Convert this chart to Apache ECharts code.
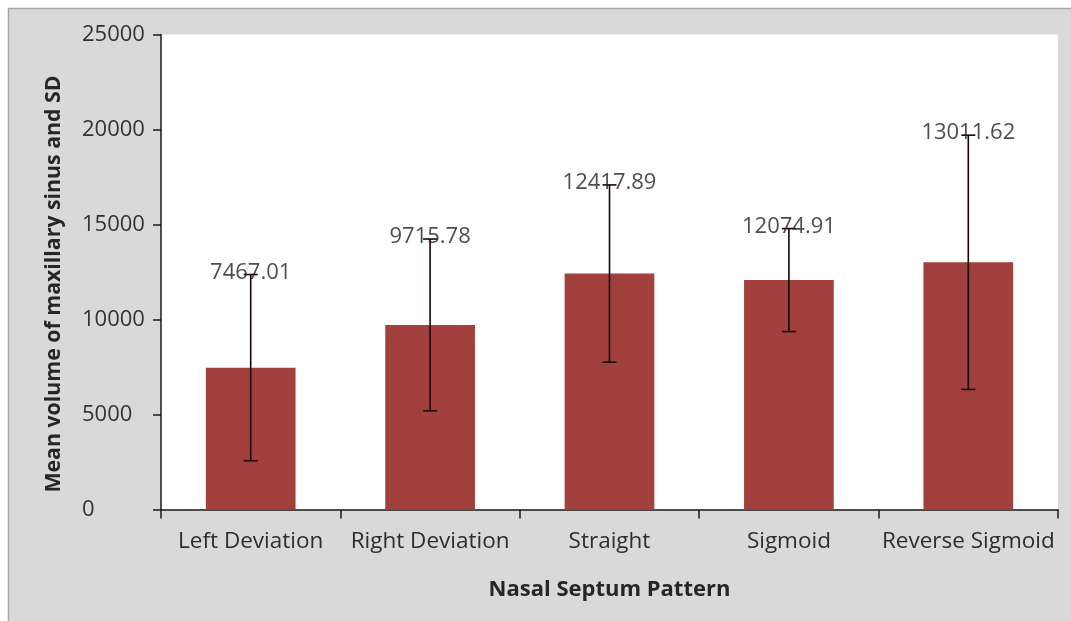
<!DOCTYPE html>
<html>
<head>
<meta charset="utf-8">
<script src="https://cdn.jsdelivr.net/npm/echarts@6/dist/echarts.min.js"></script>
<style>
html,body{margin:0;padding:0;background:#fff;}
#chart{width:1071px;height:621px;}
</style>
</head>
<body>
<div id="chart"></div>
<script>
const categories = ['Left Deviation', 'Right Deviation', 'Straight', 'Sigmoid', 'Reverse Sigmoid'];
const means = [7467.01, 9715.78, 12417.89, 12074.91, 13011.62];
const sds = [4900, 4520, 4665, 2710, 6690];
const yMin = 0, yMax = 25000, yStep = 5000;

const chart = echarts.init(document.getElementById('chart'), null, {renderer: 'canvas'});
const FONT = '"Open Sans", "Noto Sans", sans-serif';
const errData = categories.map((c, i) => [i, means[i] - sds[i], means[i] + sds[i]]);
const labelData = categories.map((c, i) => [i, means[i] + sds[i], means[i]]);

chart.setOption({
  backgroundColor: '#ffffff',
  animation: false,
  graphic: [{
    type: 'rect', z: -10, silent: true,
    shape: {x: 8.5, y: 8.5, width: 1080, height: 640},
    style: {fill: '#d9d9d9', stroke: '#a8a8a8', lineWidth: 1.5}
  }],
  grid: {left: 161, right: 13, top: 34.5, bottom: 111.5, show: true, backgroundColor: '#ffffff', borderWidth: 0},
  xAxis: {
    type: 'category', data: categories,
    name: 'Nasal Septum Pattern', nameLocation: 'middle', nameGap: 69,
    nameTextStyle: {fontFamily: FONT, fontSize: 22, fontWeight: 'bold', color: '#262626'},
    axisLine: {show: true, lineStyle: {color: '#1a1a1a', width: 1.5}},
    axisTick: {show: true, length: 9, alignWithLabel: false, lineStyle: {color: '#1a1a1a', width: 1.5}},
    axisLabel: {fontFamily: FONT, fontSize: 22.5, color: '#2e2e2e', margin: 21, interval: 0},
    splitLine: {show: false}
  },
  yAxis: {
    type: 'value', min: yMin, max: yMax, interval: yStep,
    name: 'Mean volume of maxillary sinus and SD', nameLocation: 'middle', nameGap: 97,
    nameTextStyle: {fontFamily: FONT, fontSize: 21.3, fontWeight: 'bold', color: '#262626',
      padding: [0, 24, 0, 0]},
    axisLine: {show: true, lineStyle: {color: '#1a1a1a', width: 1.5}},
    axisTick: {show: true, length: 8, lineStyle: {color: '#1a1a1a', width: 1.5}},
    axisLabel: {fontFamily: FONT, fontSize: 22, color: '#333333', align: 'left', margin: 79,
      formatter: v => String(v)},
    splitLine: {show: false}
  },
  series: [
    {
      type: 'bar', data: means, barCategoryGap: '50%',
      itemStyle: {color: '#a2403e'},
      z: 2
    },
    {
      type: 'custom', data: errData, z: 3,
      renderItem: function (params, api) {
        const x = api.value(0);
        const lo = api.coord([x, api.value(1)]);
        const hi = api.coord([x, api.value(2)]);
        const hw = 7;
        const st = {stroke: '#1a0505', lineWidth: 1.6};
        return {type: 'group', children: [
          {type: 'line', shape: {x1: lo[0], y1: lo[1], x2: hi[0], y2: hi[1]}, style: st},
          {type: 'line', shape: {x1: lo[0] - hw, y1: lo[1], x2: lo[0] + hw, y2: lo[1]}, style: st},
          {type: 'line', shape: {x1: hi[0] - hw, y1: hi[1], x2: hi[0] + hw, y2: hi[1]}, style: st}
        ]};
      }
    },
    {
      type: 'scatter', data: labelData, symbolSize: 0, z: 4,
      label: {
        show: true, position: 'inside', offset: [0, -2],
        fontFamily: FONT, fontSize: 22, color: '#222222',
        formatter: p => p.value[2].toFixed(2)
      }
    }
  ]
});
</script>
</body>
</html>
